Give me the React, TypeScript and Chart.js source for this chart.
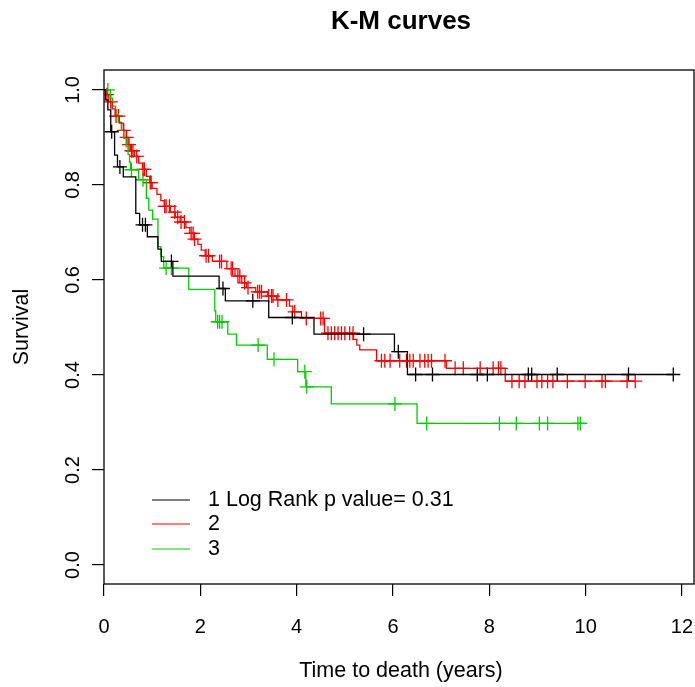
import React, { useEffect, useRef } from "react";
import { Chart, registerables } from "chart.js";

Chart.register(...registerables);

// ---- data ----
const chartTitle = "K-M curves";
const xAxisTitle = "Time to death (years)";
const yAxisTitle = "Survival";
const xTickValues = [0, 2, 4, 6, 8, 10, 12];
const yTickValues = [0, 0.2, 0.4, 0.6, 0.8, 1.0];
const yTickLabels = ["0.0", "0.2", "0.4", "0.6", "0.8", "1.0"];
const groupLabels = ["1 Log Rank p value= 0.31", "2", "3"];
const groupColors = ["#000000", "#FF0000", "#00CD00"];

// group 1 (black)
const g1EventTimes = [0.03, 0.08, 0.14, 0.22, 0.28, 0.40, 0.66, 0.74, 0.90, 1.12, 1.19, 1.43, 2.39, 2.52, 3.42, 4.36, 6.03, 6.30];
const g1Survival = [0.979, 0.958, 0.912, 0.863, 0.838, 0.817, 0.740, 0.716, 0.691, 0.665, 0.639, 0.608, 0.582, 0.556, 0.521, 0.486, 0.449, 0.401];
const g1CensorTimes = [0.16, 0.33, 0.80, 0.86, 1.40, 2.47, 3.09, 3.91, 5.39, 6.11, 6.47, 6.82, 7.75, 7.96, 8.81, 8.88, 9.41, 10.89, 11.82];

// group 2 (red)
const g2EventTimes = [0.04, 0.10, 0.17, 0.23, 0.32, 0.40, 0.46, 0.50, 0.55, 0.63, 0.72, 0.80, 0.88, 0.95, 1.00, 1.10, 1.18, 1.25, 1.38, 1.48, 1.58, 1.70, 1.78, 1.87, 1.95, 2.02, 2.10, 2.25, 2.55, 2.72, 2.86, 2.96, 3.15, 3.40, 3.58, 3.85, 3.92, 4.10, 4.58, 5.18, 5.25, 5.31, 5.66, 7.11, 8.33];
const g2Survival = [0.99, 0.975, 0.96, 0.945, 0.93, 0.915, 0.90, 0.885, 0.872, 0.86, 0.846, 0.833, 0.818, 0.805, 0.793, 0.78, 0.767, 0.755, 0.743, 0.732, 0.722, 0.71, 0.698, 0.686, 0.675, 0.663, 0.651, 0.639, 0.624, 0.608, 0.594, 0.584, 0.575, 0.566, 0.558, 0.545, 0.533, 0.519, 0.488, 0.475, 0.463, 0.453, 0.430, 0.414, 0.387];
const g2CensorTimes = [0.06, 0.14, 0.25, 0.30, 0.41, 0.47, 0.52, 0.57, 0.60, 0.68, 0.81, 0.84, 0.96, 0.98, 1.26, 1.29, 1.36, 1.47, 1.53, 1.60, 1.67, 1.81, 1.85, 1.88, 2.12, 2.17, 2.40, 2.44, 2.64, 2.67, 2.78, 2.82, 2.92, 2.99, 3.19, 3.23, 3.27, 3.42, 3.48, 3.51, 3.61, 3.79, 3.96, 4.20, 4.50, 4.55, 4.65, 4.72, 4.79, 4.86, 4.93, 5.00, 5.10, 5.17, 5.76, 5.83, 5.94, 6.14, 6.28, 6.35, 6.42, 6.56, 6.66, 6.73, 6.80, 7.08, 7.29, 7.46, 7.81, 8.08, 8.19, 8.24, 8.47, 8.62, 8.74, 8.99, 9.09, 9.21, 9.32, 9.62, 9.99, 10.34, 10.41, 10.86, 11.03];

// group 3 (green)
const g3EventTimes = [0.13, 0.18, 0.24, 0.30, 0.36, 0.41, 0.46, 0.50, 0.53, 0.55, 0.72, 0.88, 0.93, 1.01, 1.12, 1.18, 1.24, 1.76, 2.30, 2.32, 2.57, 2.75, 3.39, 4.02, 4.19, 4.72, 6.50];
const g3Survival = [0.983, 0.966, 0.949, 0.932, 0.915, 0.898, 0.881, 0.864, 0.848, 0.832, 0.811, 0.772, 0.747, 0.728, 0.670, 0.649, 0.625, 0.580, 0.535, 0.512, 0.486, 0.463, 0.433, 0.407, 0.375, 0.339, 0.298];
const g3CensorTimes = [0.08, 0.57, 0.81, 1.29, 1.40, 2.36, 2.40, 2.45, 3.20, 3.53, 4.17, 4.21, 6.04, 6.70, 8.21, 8.56, 9.04, 9.21, 9.84, 9.89];

const groups = [
  { events: g1EventTimes, surv: g1Survival, censor: g1CensorTimes },
  { events: g2EventTimes, surv: g2Survival, censor: g2CensorTimes },
  { events: g3EventTimes, surv: g3Survival, censor: g3CensorTimes },
];

function survAt(events: number[], surv: number[], t: number) {
  let s = 1;
  for (let i = 0; i < events.length; i++) {
    if (events[i] <= t) s = surv[i];
  }
  return s;
}

const FONT = "'Liberation Sans', Arial, Helvetica, sans-serif";

const rPlotPlugin = {
  id: "rPlot",
  afterDraw(chart: any) {
    const { ctx, chartArea } = chart;
    const ys = chart.scales.y;
    ctx.save();
    // box
    ctx.strokeStyle = "#000";
    ctx.lineWidth = 1.3;
    ctx.strokeRect(chartArea.left, chartArea.top, chartArea.right - chartArea.left, chartArea.bottom - chartArea.top);
    // y tick labels (rotated like R)
    ctx.fillStyle = "#000";
    ctx.font = `20px ${FONT}`;
    ctx.textAlign = "center";
    ctx.textBaseline = "middle";
    yTickValues.forEach((v, i) => {
      const py = ys.getPixelForValue(v);
      ctx.save();
      ctx.translate(73, py);
      ctx.rotate(-Math.PI / 2);
      ctx.fillText(yTickLabels[i], 0, 0);
      ctx.restore();
    });
    // y axis title
    ctx.font = `21.5px ${FONT}`;
    ctx.save();
    ctx.translate(22, (chartArea.top + chartArea.bottom) / 2);
    ctx.rotate(-Math.PI / 2);
    ctx.fillText(yAxisTitle, 0, 0);
    ctx.restore();
    // x axis title
    ctx.fillText(xAxisTitle, (chartArea.left + chartArea.right) / 2 + 2, 671);
    // main title
    ctx.font = `bold 26px ${FONT}`;
    ctx.fillText(chartTitle, (chartArea.left + chartArea.right) / 2 + 2, 22);
    // legend
    ctx.font = `21.5px ${FONT}`;
    ctx.textAlign = "left";
    const legendY = [500, 524, 549];
    groupLabels.forEach((lab, i) => {
      ctx.strokeStyle = groupColors[i];
      ctx.lineWidth = 1.2;
      ctx.beginPath();
      ctx.moveTo(152, legendY[i]);
      ctx.lineTo(190, legendY[i]);
      ctx.stroke();
      ctx.fillStyle = "#000";
      ctx.fillText(lab, 208, legendY[i]);
    });
    ctx.restore();
  },
};

export default function App() {
  const canvasRef = useRef<HTMLCanvasElement | null>(null);

  useEffect(() => {
    if (!canvasRef.current) return;
    const datasets: any[] = [];
    groups.forEach((g, i) => {
      const pts: { x: number; y: number }[] = [{ x: 0, y: 1 }];
      g.events.forEach((t, k) => pts.push({ x: t, y: g.surv[k] }));
      const lastT = Math.max(g.events[g.events.length - 1], g.censor[g.censor.length - 1]);
      pts.push({ x: lastT, y: g.surv[g.surv.length - 1] });
      datasets.push({
        label: groupLabels[i],
        data: pts,
        borderColor: groupColors[i],
        backgroundColor: groupColors[i],
        borderWidth: 1.3,
        stepped: "before",
        pointRadius: 0,
        fill: false,
      });
    });
    groups.forEach((g, i) => {
      datasets.push({
        label: groupLabels[i] + " censored",
        data: g.censor.map((t) => ({ x: t, y: survAt(g.events, g.surv, t) })),
        showLine: false,
        pointStyle: "cross",
        pointRadius: 7,
        pointBorderWidth: 1.3,
        borderColor: groupColors[i],
        backgroundColor: groupColors[i],
        pointHoverRadius: 7,
      });
    });

    const chart = new Chart(canvasRef.current, {
      type: "line",
      data: { datasets },
      options: {
        animation: false,
        responsive: false,
        devicePixelRatio: 1,
        events: [],
        layout: { autoPadding: false, padding: { left: 0, right: 1, top: 70, bottom: 0 } },
        plugins: {
          legend: { display: false },
          title: { display: false },
          tooltip: { enabled: false },
        },
        scales: {
          x: {
            type: "linear",
            min: 0,
            max: 12.25,
            afterBuildTicks: (scale: any) => {
              scale.ticks = xTickValues.map((v) => ({ value: v }));
            },
            afterFit: (scale: any) => {
              scale.height = 103;
              scale.paddingLeft = 0;
              scale.paddingRight = 0;
            },
            border: { display: false },
            grid: {
              drawOnChartArea: false,
              drawTicks: true,
              tickLength: 12,
              color: "#000",
              lineWidth: 1.2,
            },
            ticks: {
              color: "#000",
              font: { size: 20, family: FONT },
              padding: 19,
              maxRotation: 0,
              autoSkip: false,
              callback: (v: any) => String(v),
            },
          },
          y: {
            type: "linear",
            min: -0.04,
            max: 1.042,
            afterBuildTicks: (scale: any) => {
              scale.ticks = yTickValues.map((v) => ({ value: v }));
            },
            afterFit: (scale: any) => {
              scale.width = 104;
              scale.paddingTop = 0;
              scale.paddingBottom = 0;
            },
            border: { display: false },
            grid: {
              drawOnChartArea: false,
              drawTicks: true,
              tickLength: 12,
              color: "#000",
              lineWidth: 1.2,
            },
            ticks: { display: false },
          },
        },
      },
      plugins: [rPlotPlugin],
    } as any);
    return () => chart.destroy();
  }, []);

  return (
    <div style={{ position: "fixed", left: 0, top: 0, width: 695, height: 687, background: "#fff" }}>
      <canvas ref={canvasRef} width={695} height={687} style={{ display: "block" }} />
    </div>
  );
}
